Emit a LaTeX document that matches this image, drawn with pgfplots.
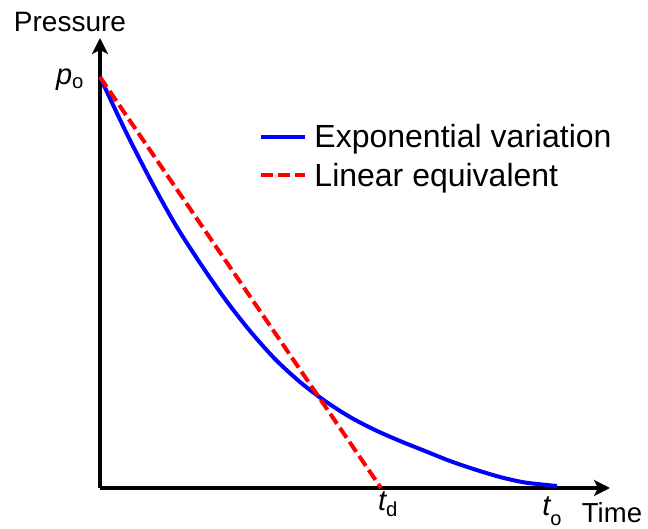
\documentclass[border=0pt]{standalone}
\usepackage{pgfplots}
\pgfplotsset{compat=1.18}
\usepackage{fontspec}
\setmainfont{Liberation Sans}
\usetikzlibrary{arrows.meta}
\definecolor{pblue}{RGB}{0,0,255}
\definecolor{pred}{RGB}{255,0,0}
\begin{document}
\begin{tikzpicture}
\begin{axis}[
  scale only axis, width=510pt, height=450pt,
  xmin=0, xmax=510, ymin=0, ymax=450,
  axis lines=left,
  axis line style={line width=4pt, -{Stealth[length=16pt,width=16pt,inset=4pt]}},
  xtick=\empty, ytick=\empty,
  clip=false,
  legend style={at={(axis cs:336.5,332)}, anchor=center, draw=none, fill=none,
    font=\fontsize{32}{32}\selectfont, row sep=10pt, column sep=5pt},
  legend cell align=left,
  legend image code/.code={\draw[#1] (0pt,0pt) -- (44pt,0pt);},
]
\addplot[pblue, line width=4pt, smooth] coordinates {
(0,411) (25,358) (50,309) (75,264) (100,225) (125,189) (150,157) (175,129)
(200,106) (225,87) (250,71) (275,58) (300,47) (325,37) (350,27) (375,18.5)
(400,11) (425,5.5) (457,2)
};
\addlegendentry{Exponential variation}
\addplot[pred, line width=4pt, dash pattern=on 12pt off 5pt] coordinates {(0,411) (281,0)};
\addlegendentry{Linear equivalent}
\node[inner sep=0pt] at (axis cs:-30,466) {\fontsize{28}{28}\selectfont Pressure};
\node[inner sep=0pt] at (axis cs:512,-25) {\fontsize{27.5}{28}\selectfont Time};
\node[inner sep=0pt] at (axis cs:-30,408) {\fontsize{29}{29}\selectfont\itshape p\textsubscript{\upshape o}};
\node[inner sep=0pt] at (axis cs:288,-16) {\fontsize{29}{29}\selectfont{\itshape t}\textsubscript{d}};
\node[inner sep=0pt] at (axis cs:452,-23) {\fontsize{29}{29}\selectfont{\itshape t}\raisebox{-0.35em}{\fontsize{20}{20}\selectfont o}};
\coordinate (bl) at (axis cs:-100,-41);
\coordinate (tr) at (axis cs:548,488);
\end{axis}
\pgfresetboundingbox
\path[use as bounding box] (bl) rectangle (tr);
\end{tikzpicture}
\end{document}
